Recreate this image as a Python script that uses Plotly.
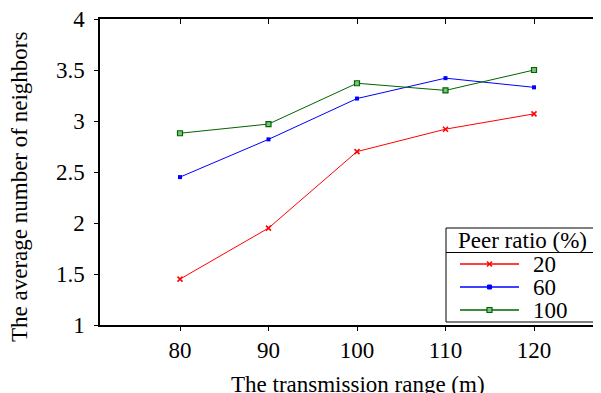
import plotly.graph_objects as go

ranges = [80, 90, 100, 110, 120]
peer_20 = [1.45, 1.95, 2.70, 2.92, 3.07]
peer_60 = [2.45, 2.82, 3.22, 3.42, 3.33]
peer_100 = [2.88, 2.97, 3.37, 3.30, 3.50]
series_names = ["20", "60", "100"]
y_ticks = [1, 1.5, 2, 2.5, 3, 3.5, 4]
y_ticktext = ["1", "1.5", "2", "2.5", "3", "3.5", "4"]

FONT = "Liberation Serif"
FS = 23
RED, BLUE, GREEN = "#ff0000", "#0000ff", "#006400"

# The page body has an 8px default margin, so the figure is laid out
# with margins compensated for that offset.
OFF = 8
PLOT_L, PLOT_T, PLOT_W, PLOT_H = 100, 19, 509, 306  # screen pixels
X_RANGE = [70.96, 70.96 + PLOT_W / 8.85]

fig = go.Figure()
fig.add_trace(go.Scatter(x=ranges, y=peer_20, name=series_names[0], mode="lines+markers",
                         line=dict(color=RED, width=1),
                         marker=dict(symbol="x-thin", size=5, color=RED,
                                     line=dict(color=RED, width=1.5))))
fig.add_trace(go.Scatter(x=ranges, y=peer_60, name=series_names[1], mode="lines+markers",
                         line=dict(color=BLUE, width=1),
                         marker=dict(symbol="square", size=4, color=BLUE)))
fig.add_trace(go.Scatter(x=ranges, y=peer_100, name=series_names[2], mode="lines+markers",
                         line=dict(color=GREEN, width=1),
                         marker=dict(symbol="square", size=5, color="#7fbf7f",
                                     line=dict(color=GREEN, width=1.2))))
# invisible trace to activate the top axis
fig.add_trace(go.Scatter(x=[ranges[0]], y=[peer_20[0]], xaxis="x2", showlegend=False,
                         mode="markers", marker=dict(opacity=0), hoverinfo="skip"))

axis_common = dict(showline=True, linecolor="black", linewidth=1.5, showgrid=False,
                   zeroline=False, tickcolor="black", automargin=False)

W, H = 601, 393
fig.update_layout(
    width=W, height=H,
    margin=dict(l=PLOT_L - OFF, r=W - (PLOT_L - OFF) - PLOT_W, t=PLOT_T - OFF,
                b=H - (PLOT_T - OFF) - PLOT_H, autoexpand=False),
    paper_bgcolor="white", plot_bgcolor="white",
    font=dict(family=FONT, size=FS, color="black"),
    showlegend=False,
    xaxis=dict(range=X_RANGE, tickvals=ranges, ticks="outside", ticklen=4,
               tickfont=dict(size=FS), ticklabeloverflow="allow", **axis_common),
    xaxis2=dict(range=X_RANGE, tickvals=ranges, overlaying="x", side="top",
                ticks="inside", ticklen=5, tickwidth=1.2, showticklabels=False,
                **axis_common),
    yaxis=dict(range=[1, 4], tickvals=y_ticks, ticktext=y_ticktext, ticks="outside",
               ticklen=4, ticklabelstandoff=5,
               tickfont=dict(size=FS), ticklabeloverflow="allow", **axis_common),
)


def px_x(p):
    return (p - PLOT_L) / float(PLOT_W)


def px_y(p):
    return (PLOT_T + PLOT_H - p) / float(PLOT_H)


# axis titles
fig.add_annotation(text="The average number of neighbors", xref="paper", yref="paper",
                   x=px_x(19), y=px_y(187), textangle=-90, showarrow=False,
                   font=dict(family=FONT, size=FS), xanchor="center", yanchor="middle")
fig.add_annotation(text="The transmission range (m)", xref="paper", yref="paper",
                   x=px_x(358), y=px_y(384), showarrow=False,
                   font=dict(family=FONT, size=FS), xanchor="center", yanchor="middle")

# legend (drawn manually, gnuplot-style boxed key)
fig.add_shape(type="rect", xref="paper", yref="paper", x0=px_x(446), x1=px_x(599),
              y0=px_y(322), y1=px_y(228), line=dict(color="black", width=1),
              fillcolor="white", layer="above")
fig.add_shape(type="line", xref="paper", yref="paper", x0=px_x(446), x1=px_x(599),
              y0=px_y(252.5), y1=px_y(252.5), line=dict(color="black", width=1))
fig.add_annotation(text="Peer ratio (%)", xref="paper", yref="paper", x=px_x(522.5),
                   y=px_y(240), showarrow=False, xanchor="center", yanchor="middle",
                   font=dict(family=FONT, size=FS))

rows = [264, 287, 310]
colors = [RED, BLUE, GREEN]
for name, col, ry in zip(series_names, colors, rows):
    yy = px_y(ry)
    fig.add_shape(type="line", xref="paper", yref="paper", x0=px_x(460), x1=px_x(519),
                  y0=yy, y1=yy, line=dict(color=col, width=1.5), layer="above")
    fig.add_annotation(text=name, xref="paper", yref="paper", x=px_x(531), y=yy,
                       showarrow=False, xanchor="left", yanchor="middle",
                       font=dict(family=FONT, size=FS))
mx = px_x(489.5)
for sgn in (1, -1):
    fig.add_shape(type="line", xref="paper", yref="paper", xsizemode="pixel",
                  ysizemode="pixel", xanchor=mx, yanchor=px_y(rows[0]),
                  x0=-2.5, x1=2.5, y0=-2.5 * sgn, y1=2.5 * sgn,
                  line=dict(color=RED, width=1.5), layer="above")
fig.add_shape(type="rect", xref="paper", yref="paper", xsizemode="pixel",
              ysizemode="pixel", xanchor=mx, yanchor=px_y(rows[1]),
              x0=-2, x1=2, y0=-2, y1=2, fillcolor=BLUE,
              line=dict(color=BLUE, width=1), layer="above")
fig.add_shape(type="rect", xref="paper", yref="paper", xsizemode="pixel",
              ysizemode="pixel", xanchor=mx, yanchor=px_y(rows[2]),
              x0=-2.5, x1=2.5, y0=-2.5, y1=2.5, fillcolor="#7fbf7f",
              line=dict(color=GREEN, width=1.2), layer="above")

fig.write_html("out.html")
